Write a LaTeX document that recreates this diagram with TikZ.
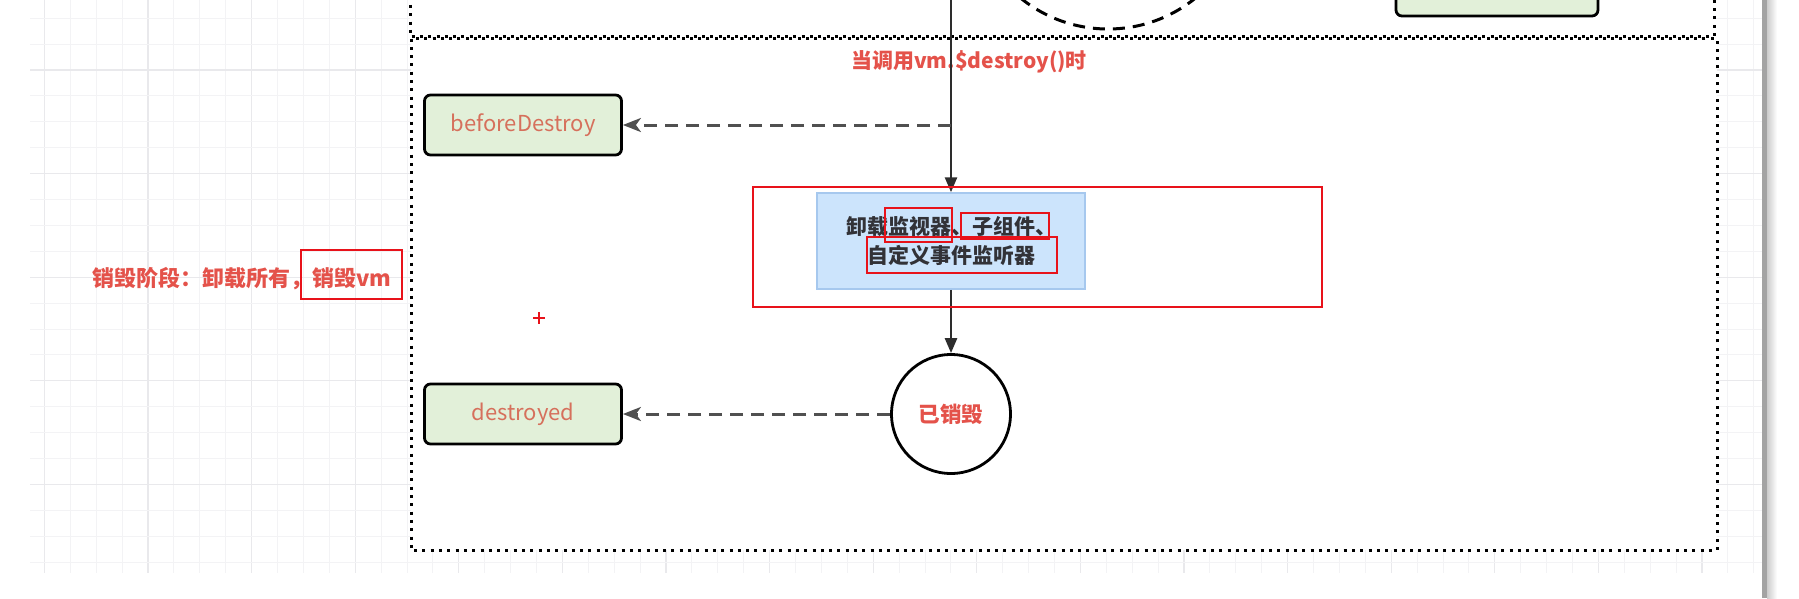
\documentclass[tikz,border=0pt]{standalone}
\usepackage{fontspec}
\setmainfont{Noto Sans CJK SC}
\usetikzlibrary{arrows.meta}
\definecolor{gridminor}{RGB}{243,243,245}
\definecolor{gridmajor}{RGB}{233,233,236}
\definecolor{boxgreen}{RGB}{226,240,217}
\definecolor{boxblue}{RGB}{204,228,252}
\definecolor{boxblueline}{RGB}{166,200,238}
\definecolor{txtred}{RGB}{228,82,74}
\definecolor{txtsalmon}{RGB}{214,112,92}
\definecolor{markred}{RGB}{232,18,26}
\definecolor{darkline}{RGB}{45,45,45}
\definecolor{dashgray}{RGB}{80,80,80}
\definecolor{txtdark}{RGB}{50,50,55}
\begin{document}
\begin{tikzpicture}[x=1pt,y=-1pt,
  hookbox/.style={draw=black, line width=2.8pt, fill=boxgreen, rounded corners=6pt,
    minimum width=197pt, minimum height=60pt, inner sep=0pt, text=txtsalmon,
    font=\fontsize{22}{25}\selectfont},
  phasebox/.style={draw=black, line width=3pt, dash pattern=on 3pt off 5.3pt, fill=white},
  actbox/.style={draw=boxblueline, line width=1.5pt, fill=boxblue, minimum width=268pt,
    minimum height=96pt, inner sep=0pt, align=center, text=txtdark,
    font=\bfseries\fontsize{21}{29}\selectfont},
  statecircle/.style={circle, draw=black, line width=2.8pt, fill=white, minimum size=119pt,
    inner sep=0pt, text=txtred, font=\bfseries\fontsize{21.5}{24}\selectfont},
  redlabel/.style={text=txtred, inner sep=0pt, font=\bfseries\fontsize{21}{24}\selectfont},
  solidarr/.style={draw=darkline, line width=2.6pt, -{Triangle[length=15pt,width=12pt]}},
  dasharr/.style={draw=dashgray, line width=3pt, dash pattern=on 13pt off 8pt,
    -{Stealth[length=18pt,width=14pt,inset=5pt]}},
  markbox/.style={draw=markred, line width=2pt}
]
\useasboundingbox (0,0) rectangle (1799,598);
\fill[white] (0,0) rectangle (1799,598);
% grid background
\foreach \k in {0,...,66} {
  \pgfmathsetmacro{\gx}{44.4+25.9*\k}
  \pgfmathtruncatemacro{\m}{mod(\k,4)}
  \ifnum\m=0
    \draw[gridmajor, line width=1.1pt] (\gx,0) -- (\gx,573);
  \else
    \draw[gridminor, line width=1pt] (\gx,0) -- (\gx,573);
  \fi
}
\foreach \k in {0,...,21} {
  \pgfmathsetmacro{\gy}{18.2+25.9*\k}
  \pgfmathtruncatemacro{\m}{mod(\k+2,4)}
  \ifnum\m=0
    \draw[gridmajor, line width=1.1pt] (30,\gy) -- (1763,\gy);
  \else
    \draw[gridminor, line width=1pt] (30,\gy) -- (1763,\gy);
  \fi
}
% window edge at the right
\fill[gray!72] (1762,0) rectangle (1767,598);
\shade[left color=gray!40, right color=white] (1767,0) rectangle (1777,598);

% upper phase (partly visible)
\draw[phasebox] (410,-20) rectangle (1714,36.5);
\node[circle, draw=black, line width=3pt, dash pattern=on 12pt off 8pt, minimum size=278pt,
  inner sep=0pt] (mountedstate) at (1108,-110) {};
\node[hookbox, minimum width=202pt, minimum height=52pt] (mountedhook) at (1497,-10) {};

% lower phase
\draw[phasebox] (411,38.5) rectangle (1717,550);

\coordinate (top) at (951,-5);
\coordinate (j1) at (951,125);

\node[redlabel] (calltxt) at (969,62) {当调用vm.\$destroy()时};

\node[hookbox] (bd) at (523,125) {beforeDestroy};
\node[actbox] (act) at (951,241) {卸载监视器、子组件、\\自定义事件监听器};
\node[statecircle] (gone) at (951,414) {已销毁};
\node[hookbox] (dd) at (523,414) {destroyed};

\node[redlabel, anchor=west, font=\bfseries\fontsize{22}{25}\selectfont] (phasetxt) at (92,279) {销毁阶段：卸载所有，销毁vm};

\draw[solidarr] (top) -- (act.north);
\draw[dasharr] (j1) -- (bd.east);
\draw[solidarr] (act.south) -- (gone.north);
\draw[dasharr] (gone.west) -- (dd.east);

% red annotation marks
\draw[markbox] (753,187) rectangle (1322,307);
\draw[markbox] (885,208) rectangle (952,242);
\draw[markbox] (961,213) rectangle (1049,239);
\draw[markbox] (867,237) rectangle (1057,273);
\draw[markbox] (301,250) rectangle (402,299);
\draw[markred, line width=2.6pt] (533,318) -- (545,318);
\draw[markred, line width=2.6pt] (539,312) -- (539,324);
\end{tikzpicture}
\end{document}
